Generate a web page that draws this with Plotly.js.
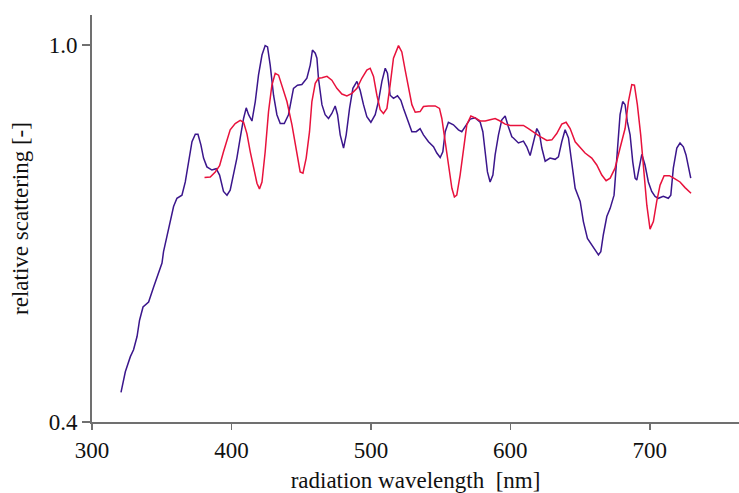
<!DOCTYPE html>
<html>
<head>
<meta charset="utf-8">
<script src="https://cdn.plot.ly/plotly-3.0.1.min.js"></script>
<style>html,body{margin:0;padding:0;background:#fff;}#chart{width:739px;height:493px;}</style>
</head>
<body>
<div id="chart"></div>
<script>
// Series 1 (dark indigo) – wavelength [nm]
const blueX = [320.8,323.9,327.5,329.8,332.3,334.1,336.6,340.6,344.2,347.7,350.2,351.3,353.8,356.1,358.5,360.9,364.5,366.9,369.2,371.7,374.1,376.0,378.1,380.0,382.4,386.0,389.1,391.5,394.3,396.8,399.1,401.5,403.9,406.3,408.7,410.6,412.3,414.7,417.1,419.4,421.9,424.2,425.9,427.8,430.2,432.6,435.0,437.9,440.9,444.5,447.4,450.5,454.1,456.5,458.1,460.1,461.3,462.4,464.9,467.2,469.6,472.0,474.4,476.1,478.0,480.4,482.3,484.7,487.1,490.0,492.3,494.7,497.1,500.0,503.1,505.4,507.9,510.3,511.9,513.8,516.2,519.1,521.5,523.4,525.8,529.4,532.5,535.3,537.7,541.3,544.9,547.3,549.7,551.6,553.3,555.6,559.2,562.8,565.2,567.6,571.2,574.8,578.4,580.3,581.9,583.6,585.5,587.5,589.1,591.5,593.9,596.3,598.6,601.1,602.2,605.8,609.4,611.8,614.2,616.6,619.0,620.9,622.6,625.0,628.5,632.1,634.5,636.9,639.3,641.7,644.1,646.5,650.1,652.4,655.3,658.4,661.5,663.2,664.9,666.7,669.2,671.6,674.4,676.8,678.7,680.6,682.3,683.9,685.9,687.8,689.5,690.7,692.5,694.3,696.6,699.0,701.4,703.8,706.2,709.7,713.3,715.1,716.9,719.4,721.7,724.1,726.0,727.7,729.4];
// Series 1 relative scattering [-]
const blueY = [0.447,0.480,0.504,0.515,0.536,0.562,0.583,0.591,0.615,0.637,0.653,0.671,0.695,0.716,0.743,0.756,0.761,0.782,0.814,0.846,0.858,0.858,0.841,0.820,0.806,0.801,0.803,0.793,0.767,0.761,0.769,0.793,0.820,0.852,0.883,0.900,0.889,0.879,0.910,0.952,0.984,0.999,0.997,0.968,0.920,0.889,0.875,0.875,0.889,0.931,0.936,0.937,0.947,0.968,0.992,0.987,0.979,0.947,0.905,0.889,0.883,0.891,0.903,0.889,0.857,0.836,0.857,0.899,0.931,0.942,0.928,0.905,0.886,0.877,0.889,0.910,0.942,0.963,0.955,0.920,0.915,0.919,0.912,0.899,0.883,0.862,0.862,0.867,0.857,0.846,0.838,0.828,0.821,0.830,0.862,0.877,0.873,0.865,0.862,0.870,0.882,0.884,0.877,0.862,0.825,0.798,0.782,0.793,0.825,0.857,0.881,0.887,0.870,0.854,0.852,0.844,0.847,0.838,0.824,0.846,0.867,0.859,0.836,0.815,0.820,0.818,0.822,0.846,0.865,0.852,0.809,0.772,0.751,0.719,0.692,0.682,0.671,0.666,0.671,0.698,0.727,0.740,0.761,0.841,0.889,0.910,0.905,0.878,0.857,0.814,0.788,0.785,0.809,0.826,0.809,0.782,0.767,0.759,0.756,0.759,0.756,0.761,0.804,0.836,0.844,0.838,0.825,0.809,0.788];

// Series 2 (crimson) – wavelength [nm]
const redX = [380.7,384.8,388.4,391.5,394.3,396.8,399.1,402.7,406.3,408.7,411.1,413.5,415.8,418.3,420.1,421.9,424.2,426.6,429.0,431.4,433.8,436.2,439.8,443.4,446.5,449.3,451.3,453.6,456.0,457.7,460.1,462.4,464.9,468.5,472.0,475.6,479.2,482.8,486.4,490.0,493.5,497.1,499.5,501.9,504.3,506.7,509.0,511.5,513.8,516.2,519.8,522.2,524.6,527.0,529.4,531.8,535.3,537.7,541.3,546.1,549.2,550.9,553.3,555.6,558.1,559.9,561.6,564.0,566.4,568.8,571.7,574.8,578.4,582.0,585.5,589.1,592.7,596.3,599.9,609.4,613.0,616.6,621.4,626.2,629.8,633.3,636.9,640.0,642.9,646.5,650.1,653.6,658.4,662.0,665.6,668.7,671.6,675.1,678.7,682.3,684.7,687.1,689.0,691.1,693.5,695.4,697.9,700.2,702.6,705.0,707.4,710.3,714.1,718.1,721.7,725.3,729.6];
// Series 2 relative scattering [-]
const redY = [0.789,0.790,0.798,0.808,0.830,0.849,0.865,0.875,0.880,0.877,0.859,0.830,0.804,0.780,0.771,0.782,0.830,0.894,0.936,0.955,0.952,0.936,0.910,0.873,0.836,0.798,0.796,0.820,0.862,0.910,0.939,0.947,0.948,0.950,0.944,0.931,0.922,0.919,0.923,0.931,0.947,0.960,0.963,0.950,0.920,0.897,0.891,0.899,0.936,0.979,0.999,0.989,0.960,0.931,0.905,0.893,0.894,0.902,0.903,0.903,0.899,0.883,0.846,0.804,0.772,0.758,0.761,0.793,0.836,0.873,0.887,0.884,0.879,0.879,0.881,0.883,0.879,0.874,0.872,0.872,0.867,0.861,0.854,0.848,0.849,0.859,0.874,0.877,0.867,0.846,0.836,0.828,0.820,0.809,0.793,0.784,0.788,0.804,0.836,0.867,0.910,0.937,0.936,0.905,0.857,0.804,0.745,0.707,0.719,0.751,0.777,0.792,0.792,0.787,0.782,0.773,0.764];

const yTickVals = [0.4, 1.0];
const yTickText = ['0.4', '1.0'];
const xTickVals = [300, 400, 500, 600, 700];

const font = {family: 'Liberation Serif, DejaVu Serif, serif', size: 23, color: '#111'};

const traces = [
  {x: blueX, y: blueY, type: 'scatter', mode: 'lines', line: {color: '#3b168c', width: 1.5}, hoverinfo: 'skip'},
  {x: redX, y: redY, type: 'scatter', mode: 'lines', line: {color: '#e8123c', width: 1.5}, hoverinfo: 'skip'}
];

const layout = {
  width: 739, height: 493,
  margin: {l: 92, r: 0, t: 15, b: 71, pad: 0},
  paper_bgcolor: '#fff', plot_bgcolor: '#fff',
  showlegend: false,
  font: font,
  xaxis: {
    range: [300, 764], tickvals: xTickVals, ticks: 'outside', ticklen: 6, tickwidth: 1.5, tickcolor: '#707070',
    showline: true, linecolor: '#707070', linewidth: 2, showgrid: false, zeroline: false,
    tickfont: font,
    title: {text: 'radiation wavelength&nbsp; [nm]', font: font, standoff: 10}
  },
  yaxis: {
    range: [0.4, 1.0477], tickvals: yTickVals, ticktext: yTickText, ticks: 'outside', ticklen: 8, tickwidth: 1.5, tickcolor: '#707070',
    showline: true, linecolor: '#707070', linewidth: 2, showgrid: false, zeroline: false,
    tickfont: font,
    title: {text: 'relative scattering [-]', font: font, standoff: 14}
  }
};

Plotly.newPlot('chart', traces, layout, {staticPlot: true, displayModeBar: false});
</script>
</body>
</html>
